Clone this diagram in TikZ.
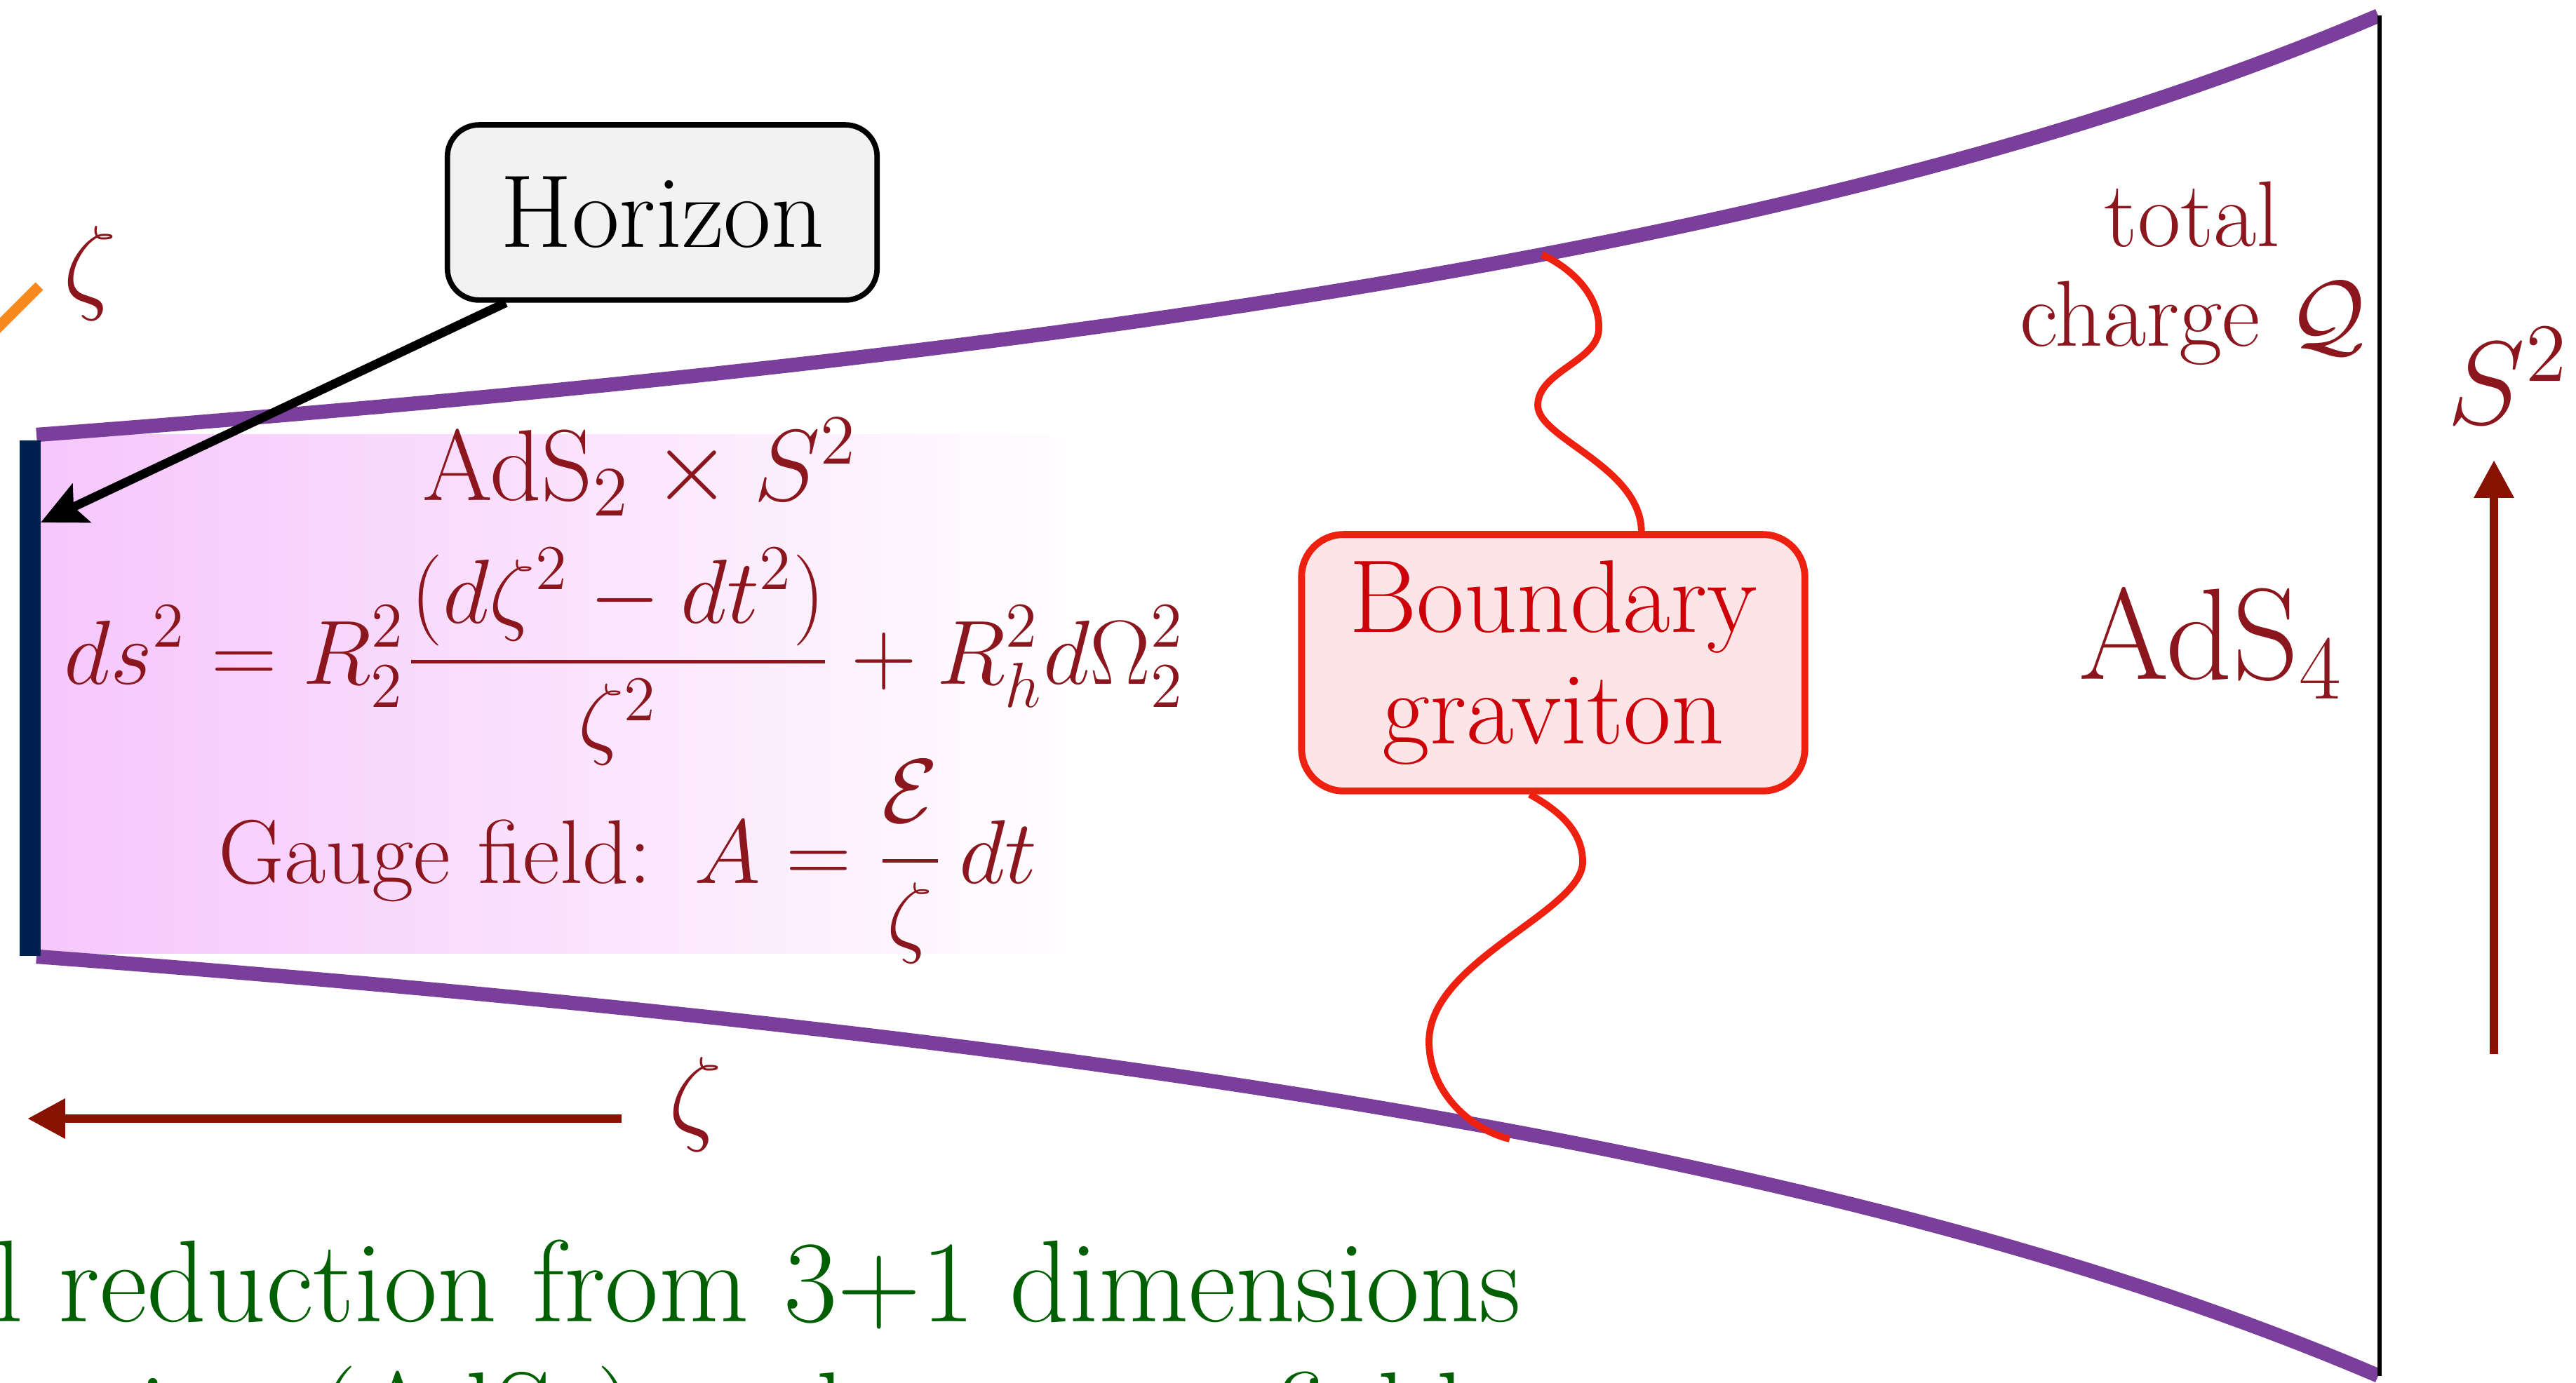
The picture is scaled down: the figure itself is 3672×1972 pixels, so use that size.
\RequirePackage{fix-cm}
\documentclass[tikz,border=0pt]{standalone}
\usepackage{amsmath}
\usepackage{amssymb}
\usepackage{tikz}
\usetikzlibrary{arrows.meta, calc}

\definecolor{adsred}{RGB}{140,22,30}
\definecolor{arrowred}{RGB}{135,18,0}
\definecolor{bndpurple}{RGB}{122,62,155}
\definecolor{hornavy}{RGB}{0,33,80}
\definecolor{grred}{RGB}{238,32,16}
\definecolor{grtext}{RGB}{205,0,10}
\definecolor{grfill}{RGB}{253,228,230}
\definecolor{hzfill}{RGB}{242,242,242}
\definecolor{capgreen}{RGB}{0,95,0}
\definecolor{axorange}{RGB}{247,137,30}
\definecolor{shadepink}{RGB}{246,198,252}

\begin{document}
\begin{tikzpicture}[x=0.005cm,y=-0.005cm,
  bndline/.style={bndpurple,line width=2.9pt},
  bigarrow/.style={arrowred,line width=1.8pt,-{Triangle[length=2.7mm,width=2.7mm]}},
  wiggle/.style={grred,line width=1.4pt},
  darklabel/.style={text=adsred,inner sep=0pt},
  captext/.style={text=capgreen,inner sep=0pt,font=\fontsize{23.65}{27}\selectfont}]

\useasboundingbox (0,0) rectangle (3672,1972);
\clip (0,0) rectangle (3672,1972);

% near horizon region
\shade[left color=shadepink,right color=white] (56,620) rectangle (1560,1360);

\draw[bndline] plot[domain=52:3390,samples=90] (\x,{1051.5-2480/(5.8-\x/1000)});
\draw[bndline] plot[domain=52:3390,samples=90] (\x,{932.5+2480/(5.8-\x/1000)});

\coordinate (hortop) at (43,628);
\coordinate (horbot) at (43,1363);
\draw[hornavy,line width=4.2pt] (hortop)--(horbot);

\coordinate (bdtop) at (3392,22);
\draw[line width=0.8pt] (bdtop)--(3392,1962);

\draw[axorange,line width=2.2pt] (-20,484)--(56,408);
\node[darklabel,anchor=base,font=\fontsize{21.5}{25}\selectfont] (zt) at (128,428) {$\zeta$};

\node[draw,rounded corners=0.225cm,line width=1.1pt,fill=hzfill,
  minimum width=3.065cm,minimum height=1.25cm,
  font=\fontsize{21}{25}\selectfont] (hz) at (944,303) {Horizon};

\coordinate (hztip) at (58,745);
\draw[line width=1.8pt,-{Stealth[length=3.2mm,width=3mm,inset=0.6mm]}] (hz.210)--(hztip);

\node[darklabel,anchor=base,font=\fontsize{20.5}{24}\selectfont] (ads2) at (912,714)
{AdS$_2\times S^2$};
\node[darklabel,anchor=base,font=\fontsize{18.5}{22}\selectfont] (metric) at (890,976)
{$\displaystyle ds^2=R_2^2\frac{(d\zeta^2-dt^2)}{\zeta^2}+R_h^2d\Omega_2^2$};
\node[darklabel,anchor=base,font=\fontsize{18.4}{22}\selectfont] (gauge) at (895,1260)
{Gauge field:~\,$\displaystyle A=\frac{\mathcal{E}}{\zeta}\,dt$};

% boundary graviton
\node[draw=grred,rounded corners=0.3cm,line width=1.4pt,fill=grfill,text=grtext,
  minimum width=3.59cm,minimum height=1.83cm,align=center,
  font=\fontsize{21}{22.6}\selectfont] (gr) at (2214,945) {Boundary\\graviton};

\coordinate (gtop) at (2198,363);
\coordinate (gbot) at (2152,1624);
\draw[wiggle] (gtop) .. controls (2245,385) and (2281,425) .. (2279,470)
  .. controls (2277,515) and (2192,530) .. (2192,578)
  .. controls (2192,625) and (2338,665) .. ($(gr.north west)!0.673!(gr.north east)$);
\draw[wiggle] ($(gr.south west)!0.454!(gr.south east)$) .. controls (2230,1160) and (2256,1190) .. (2256,1229)
  .. controls (2256,1300) and (2037,1370) .. (2037,1485)
  .. controls (2037,1560) and (2100,1612) .. (gbot);

\node[darklabel,align=center,font=\fontsize{19}{20.3}\selectfont] (charge) at (3125,390)
{total\\charge $\mathcal{Q}$};
\node[darklabel,anchor=base,font=\fontsize{26.4}{31}\selectfont] (ads4) at (3152,969) {AdS$_4$};
\node[darklabel,anchor=base,font=\fontsize{24}{29}\selectfont] (s2) at (3575,605) {$S^2$};

\coordinate (stail) at (3555,1503);
\coordinate (stip) at (3555,656);
\draw[bigarrow] (stail)--(stip);

\node[darklabel,anchor=base,font=\fontsize{21.5}{25}\selectfont] (zb) at (991,1613) {$\zeta$};
\coordinate (ztail) at (886,1595);
\coordinate (ztip) at (39,1595);
\draw[bigarrow] (ztail)--(ztip);

\node[captext,anchor=base east] (cap1) at (2170,1885) {Dimensional reduction from 3+1 dimensions};
\node[captext,anchor=base west] (cap2) at (-1330,2072) {to the near-horizon region (AdS$_2$) and a gauge field};

\end{tikzpicture}
\end{document}
